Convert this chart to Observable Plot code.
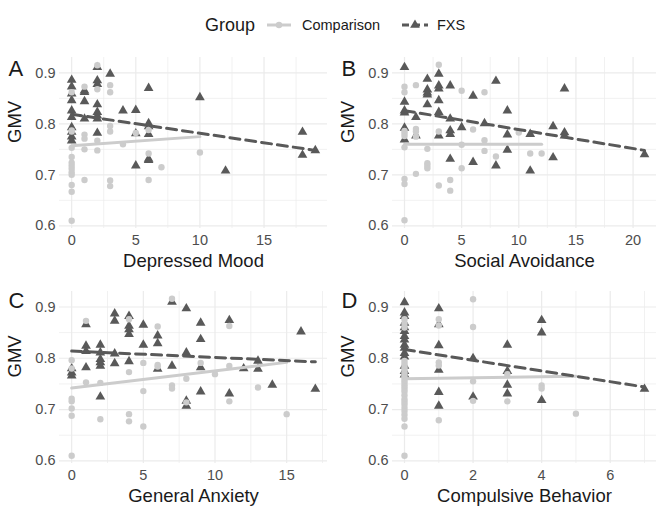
<!DOCTYPE html>
<html><head><meta charset="utf-8">
<script src="https://cdn.jsdelivr.net/npm/d3@7"></script>
<script src="https://cdn.jsdelivr.net/npm/@observablehq/plot@0.6"></script>
<style>
body{margin:0;background:#fff;font-family:"Liberation Sans",Arial,sans-serif;}
#root{position:relative;width:666px;height:515px;overflow:hidden;background:#fff;}
.panel{position:absolute;}
</style></head><body><div id="root"></div>
<script>
// ---------- data ----------
const groups = ["Comparison", "FXS"];
const panelTags = ["A", "B", "C", "D"];
const panelTitles = ["Depressed Mood", "Social Avoidance", "General Anxiety", "Compulsive Behavior"];
const yTicks = [0.6, 0.7, 0.8, 0.9];
const yMinorTicks = [0.65, 0.75, 0.85];

// Panel A: Depressed Mood
const aCompX = [0,0,0,0,0,0,0,0,0,0,0,0,0, 1,1,1,1,1, 2,2,2,2, 3,3,3,3,3,3, 4, 5, 6,6,6, 7, 10];
const aCompY = [0.862,0.787,0.785,0.753,0.735,0.724,0.718,0.712,0.705,0.700,0.680,0.667,0.610, 0.873,0.779,0.771,0.750,0.690, 0.915,0.868,0.767,0.748, 0.876,0.862,0.796,0.785,0.689,0.678, 0.760, 0.782, 0.788,0.742,0.690, 0.715, 0.744];
const aFxsX = [0,0,0,0,0,0,0,0,0,0, 1,1,1,1, 2,2,2,2,2,2,2,2, 3, 4, 5,5,5, 6,6,6,6,6,6, 10, 12, 18,18, 19];
const aFxsY = [0.886,0.873,0.859,0.846,0.826,0.813,0.793,0.784,0.775,0.767, 0.865,0.862,0.844,0.810, 0.911,0.885,0.878,0.838,0.823,0.816,0.810,0.782, 0.898, 0.826, 0.827,0.781,0.718, 0.870,0.801,0.795,0.780,0.731,0.729, 0.852, 0.708, 0.784,0.739, 0.748];
const aFitCompX = [0, 10], aFitCompY = [0.757, 0.775];
const aFitFxsX = [0, 19], aFitFxsY = [0.819, 0.748];
const aTicks = [0, 5, 10, 15], aMinor = [2.5, 7.5, 12.5, 17.5];

// Panel B: Social Avoidance
const bCompX = [0,0,0,0,0,0,0,0,0, 1,1,1,1,1, 2,2,2,2, 3,3,3, 4,4, 5,5,5, 6, 7,7,7, 8, 10, 11, 12];
const bCompY = [0.873,0.862,0.786,0.781,0.776,0.754,0.692,0.682,0.611, 0.876,0.790,0.785,0.775,0.702, 0.751,0.723,0.718,0.713, 0.916,0.785,0.679, 0.690,0.669, 0.865,0.759,0.713, 0.789, 0.862,0.768,0.747, 0.736, 0.783, 0.742, 0.742];
const bFxsX = [0,0,0,0,0,0, 1,1, 2,2,2,2,2, 3,3,3,3,3,3, 4,4,4,4,4, 5, 6,6, 7, 8,8, 9,9,9, 11,11, 13,13, 14,14,14, 21];
const bFxsY = [0.911,0.843,0.826,0.822,0.792,0.769, 0.813,0.777, 0.888,0.867,0.861,0.857,0.838, 0.898,0.875,0.869,0.846,0.823,0.777, 0.875,0.810,0.787,0.780,0.731, 0.793, 0.855,0.725, 0.801, 0.884,0.718, 0.826,0.779,0.749, 0.780,0.708, 0.795,0.734, 0.869,0.783,0.777, 0.740];
const bFitCompX = [0, 12], bFitCompY = [0.760, 0.760];
const bFitFxsX = [0, 21], bFitFxsY = [0.826, 0.748];
const bTicks = [0, 5, 10, 15, 20], bMinor = [2.5, 7.5, 12.5, 17.5];

// Panel C: General Anxiety
const cCompX = [0,0,0,0,0,0,0, 1,1, 2,2, 4,4,4,4, 5,5,5, 6,6,6, 7,7,7, 8,8, 9, 10, 11,11,11, 13, 15];
const cCompY = [0.796,0.780,0.721,0.716,0.702,0.688,0.610, 0.873,0.753, 0.752,0.681, 0.876,0.773,0.691,0.677, 0.791,0.736,0.667, 0.862,0.787,0.784, 0.916,0.747,0.741, 0.760,0.714, 0.791, 0.769, 0.863,0.785,0.716, 0.743, 0.691];
const cFxsX = [0,0,0, 1,1,1,1, 2,2,2,2,2,2, 3,3,3,3, 4,4,4,4,4, 5,5, 6,6,6, 7,7, 8,8,8,8, 9,9,9,9, 11,11, 12, 13,13, 14, 16, 17];
const cFxsY = [0.780,0.772,0.766, 0.866,0.824,0.814,0.782, 0.826,0.811,0.798,0.792,0.785,0.725, 0.887,0.873,0.809,0.790, 0.882,0.863,0.856,0.847,0.794, 0.865,0.826, 0.844,0.829,0.779, 0.910,0.785, 0.897,0.811,0.717,0.707, 0.869,0.837,0.782,0.735, 0.874,0.731, 0.780, 0.795,0.779, 0.748, 0.852, 0.740];
const cFitCompX = [0, 15], cFitCompY = [0.742, 0.792];
const cFitFxsX = [0, 17], cFitFxsY = [0.814, 0.793];
const cTicks = [0, 5, 10, 15], cMinor = [2.5, 7.5, 12.5, 17.5];

// Panel D: Compulsive Behavior
const dCompX = [0,0,0,0,0,0,0,0,0,0,0,0,0,0,0,0,0,0,0,0,0,0,0,0,0,0, 1,1,1,1,1, 2,2,2,2, 3,3, 4,4, 5];
const dCompY = [0.876,0.868,0.860,0.795,0.790,0.785,0.780,0.775,0.770,0.765,0.760,0.755,0.750,0.745,0.740,0.735,0.728,0.720,0.715,0.710,0.703,0.697,0.690,0.682,0.667,0.610, 0.876,0.864,0.792,0.786,0.679, 0.915,0.861,0.755,0.717, 0.769,0.716, 0.747,0.741, 0.692];
const dFxsX = [0,0,0,0,0,0,0,0,0,0,0,0,0,0,0, 1,1,1,1,1,1, 2,2, 3,3,3,3, 4,4,4, 7];
const dFxsY = [0.909,0.889,0.882,0.869,0.860,0.853,0.843,0.836,0.826,0.820,0.810,0.803,0.785,0.775,0.768, 0.897,0.866,0.825,0.777,0.734,0.707, 0.800,0.725, 0.826,0.775,0.748,0.731, 0.874,0.850,0.718, 0.740];
const dFitCompX = [0, 5], dFitCompY = [0.760, 0.765];
const dFitFxsX = [0, 7], dFitFxsY = [0.817, 0.744];
const dTicks = [0, 2, 4, 6], dMinor = [1, 3, 5, 7];

// ---------- styling ----------
const compColor = "#cccccc";
const fxsColor = "#595959";
const gridColor = "#ebebeb";
const font = "Liberation Sans, Arial, sans-serif";

const root = document.getElementById("root");
const zip = (xs, ys) => xs.map((x, i) => ({x, y: ys[i]}));

function makePanel(cfg) {
  const comp = zip(cfg.compX, cfg.compY);
  const fxs = zip(cfg.fxsX, cfg.fxsY);
  const fitC = zip(cfg.fitCX, cfg.fitCY);
  const fitF = zip(cfg.fitFX, cfg.fitFY);
  const pad = (cfg.xMax) * 0.05;
  const svg = Plot.plot({
    width: 333, height: cfg.height,
    marginLeft: 59, marginRight: cfg.mr, marginTop: cfg.mt, marginBottom: cfg.mb,
    style: {background: "transparent", fontFamily: font, overflow: "visible"},
    x: {domain: [-pad, cfg.xMax + pad]},
    y: {domain: [0.5948, 0.9302]},
    marks: [
      Plot.gridY(yMinorTicks, {stroke: gridColor, strokeOpacity: 1, strokeWidth: 0.7}),
      Plot.gridX(cfg.minor.filter(v => v < cfg.xMax + pad), {stroke: gridColor, strokeOpacity: 1, strokeWidth: 0.7}),
      Plot.gridY(yTicks, {stroke: gridColor, strokeOpacity: 1, strokeWidth: 1.2}),
      Plot.gridX(cfg.ticks, {stroke: gridColor, strokeOpacity: 1, strokeWidth: 1.2}),
      Plot.axisY(yTicks, {tickSize: 0, tickPadding: 4, tickFormat: d => d.toFixed(1), fontSize: 14.5, color: "#4d4d4d", label: null}),
      Plot.axisX(cfg.ticks, {tickSize: 0, tickPadding: 6, fontSize: 14.5, color: "#4d4d4d", label: null}),
      Plot.dot(fxs, {x: "x", y: "y", symbol: "triangle", r: 3.6, fill: fxsColor}),
      Plot.dot(comp, {x: "x", y: "y", r: 3.2, fill: compColor}),
      Plot.line(fitC, {x: "x", y: "y", stroke: compColor, strokeWidth: 3}),
      Plot.line(fitF, {x: "x", y: "y", stroke: fxsColor, strokeWidth: 3, strokeDasharray: "10,6"}),
      Plot.text([cfg.title], {frameAnchor: "bottom", dy: 38, fontSize: 18.5, fill: "#1a1a1a", text: d => d}),
      Plot.text(["GMV"], {frameAnchor: "left", dx: -44, rotate: -90, fontSize: 18.5, fill: "#1a1a1a", text: d => d}),
      Plot.text([cfg.tag], {frameAnchor: "top-left", dx: -51, dy: cfg.tagDy, textAnchor: "start", lineAnchor: "bottom", fontSize: 22, fill: "#1a1a1a", text: d => d})
    ]
  });
  const div = document.createElement("div");
  div.className = "panel";
  div.style.left = cfg.left + "px";
  div.style.top = cfg.top + "px";
  div.appendChild(svg);
  root.appendChild(div);
}

makePanel({left: 0, top: 50, height: 220, mt: 7, mb: 42, mr: 6, tagDy: 18, xMax: 19,
  ticks: aTicks, minor: aMinor, title: panelTitles[0], tag: panelTags[0],
  compX: aCompX, compY: aCompY, fxsX: aFxsX, fxsY: aFxsY,
  fitCX: aFitCompX, fitCY: aFitCompY, fitFX: aFitFxsX, fitFY: aFitFxsY});
makePanel({left: 333, top: 50, height: 220, mt: 7, mb: 42, mr: 10, tagDy: 18, xMax: 21,
  ticks: bTicks, minor: bMinor, title: panelTitles[1], tag: panelTags[1],
  compX: bCompX, compY: bCompY, fxsX: bFxsX, fxsY: bFxsY,
  fitCX: bFitCompX, fitCY: bFitCompY, fitFX: bFitFxsX, fitFY: bFitFxsY});
makePanel({left: 0, top: 270, height: 245, mt: 21, mb: 52, mr: 6, tagDy: 16, xMax: 17,
  ticks: cTicks, minor: cMinor, title: panelTitles[2], tag: panelTags[2],
  compX: cCompX, compY: cCompY, fxsX: cFxsX, fxsY: cFxsY,
  fitCX: cFitCompX, fitCY: cFitCompY, fitFX: cFitFxsX, fitFY: cFitFxsY});
makePanel({left: 333, top: 270, height: 245, mt: 21, mb: 52, mr: 10, tagDy: 16, xMax: 7,
  ticks: dTicks, minor: dMinor, title: panelTitles[3], tag: panelTags[3],
  compX: dCompX, compY: dCompY, fxsX: dFxsX, fxsY: dFxsY,
  fitCX: dFitCompX, fitCY: dFitCompY, fitFX: dFitFxsX, fitFY: dFitFxsY});

// ---------- legend ----------
const ns = "http://www.w3.org/2000/svg";
const leg = document.createElementNS(ns, "svg");
leg.setAttribute("width", 666); leg.setAttribute("height", 48);
leg.style.position = "absolute"; leg.style.left = "0px"; leg.style.top = "0px";
leg.style.fontFamily = font;
function el(tag, attrs, txt) {
  const e = document.createElementNS(ns, tag);
  for (const k in attrs) e.setAttribute(k, attrs[k]);
  if (txt) e.textContent = txt;
  leg.appendChild(e);
  return e;
}
el("text", {x: 205, y: 31, "font-size": 18, fill: "#1a1a1a"}, "Group");
el("line", {x1: 267, x2: 291, y1: 25, y2: 25, stroke: compColor, "stroke-width": 3});
el("circle", {cx: 279, cy: 25, r: 3.2, fill: compColor});
el("text", {x: 302, y: 30, "font-size": 14.5, fill: "#1a1a1a"}, groups[0]);
el("line", {x1: 402, x2: 428, y1: 25, y2: 25, stroke: fxsColor, "stroke-width": 3, "stroke-dasharray": "7,4"});
el("path", {d: d3.symbol(d3.symbolTriangle, Math.PI * 3.6 * 3.6)(), transform: "translate(415,25)", fill: fxsColor});
el("text", {x: 437, y: 30, "font-size": 14.5, fill: "#1a1a1a"}, groups[1]);
root.appendChild(leg);
</script>
</body></html>
